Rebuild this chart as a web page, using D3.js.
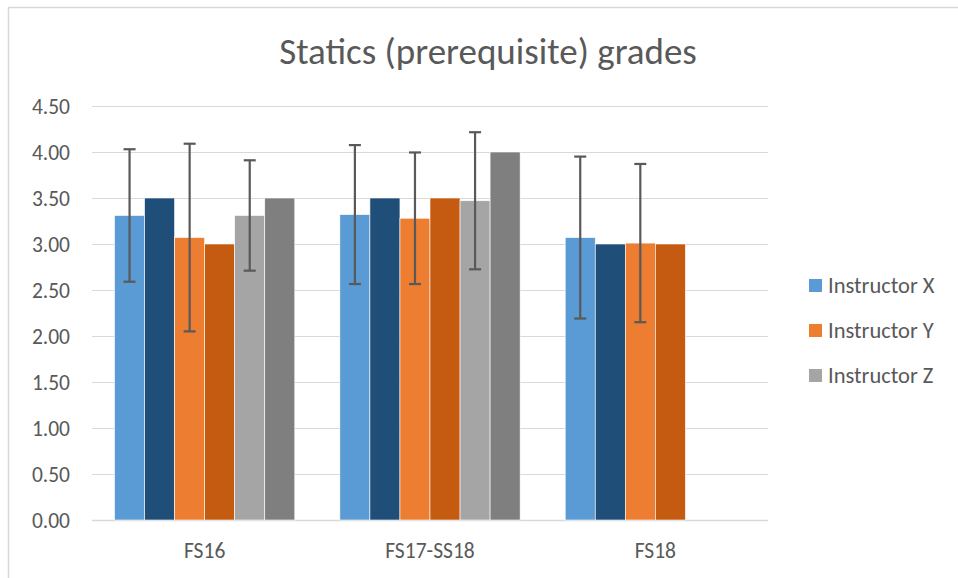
<!DOCTYPE html>
<html>
<head>
<meta charset="utf-8">
<script src="https://cdn.jsdelivr.net/npm/d3@7"></script>
<style>
  html, body { margin: 0; padding: 0; background: #fff; }
  svg { display: block; }
  text { font-family: Carlito, "Liberation Sans Narrow", "Open Sans", sans-serif; fill: #595959; }
</style>
</head>
<body>
<svg id="chart" width="958" height="578"></svg>
<script>
// ---- Data ----
const title = "Statics (prerequisite) grades";
const categories = ["FS16", "FS17-SS18", "FS18"];
const seriesNames = ["X mean", "X median", "Y mean", "Y median", "Z mean", "Z median"];
const legendNames = ["Instructor X", "Instructor Y", "Instructor Z"];
const xMean   = [3.31, 3.32, 3.07];
const xMedian = [3.50, 3.50, 3.00];
const yMean   = [3.07, 3.28, 3.01];
const yMedian = [3.00, 3.50, 3.00];
const zMean   = [3.31, 3.47, null];
const zMedian = [3.50, 4.00, null];
const xErr = [0.72, 0.755, 0.88];
const yErr = [1.02, 0.715, 0.86];
const zErr = [0.60, 0.745, null];
const yTicks = [0, 0.5, 1, 1.5, 2, 2.5, 3, 3.5, 4, 4.5];

// ---- Styles ----
const colors = ["#5b9bd5", "#1f4e79", "#ed7d31", "#c55a11", "#a5a5a5", "#7f7f7f"];
const legendColors = ["#5b9bd5", "#ed7d31", "#a5a5a5"];

const svg = d3.select("#chart");
const W = 958, H = 578;

// chart border
svg.append("rect").attr("x", 8.5).attr("y", 7.5).attr("width", W).attr("height", H)
  .attr("fill", "none").attr("stroke", "#d9d9d9").attr("stroke-width", 1.5);

const plot = { left: 92, right: 768, top: 106, bottom: 520 };

const y = d3.scaleLinear().domain([0, 4.5]).range([plot.bottom, plot.top]);
const x0 = d3.scaleBand().domain(categories).range([plot.left, plot.right]).paddingInner(0.2).paddingOuter(0.1);
const x1 = d3.scaleBand().domain(seriesNames).range([0, x0.bandwidth()]);

// gridlines
svg.append("g").selectAll("line").data(yTicks).join("line")
  .attr("x1", plot.left).attr("x2", plot.right)
  .attr("y1", d => Math.round(y(d)) + 0.5).attr("y2", d => Math.round(y(d)) + 0.5)
  .attr("stroke", "#d9d9d9").attr("stroke-width", d => d === 0 ? 1.5 : 1.2);

// y axis labels
svg.append("g").selectAll("text").data(yTicks).join("text")
  .attr("x", 70).attr("y", d => y(d)).attr("dy", "0.35em")
  .attr("text-anchor", "end").attr("font-size", 21.5)
  .text(d => d3.format(".2f")(d));

// bars
const allSeries = [xMean, xMedian, yMean, yMedian, zMean, zMedian];
const barData = [];
categories.forEach((c, ci) => {
  allSeries.forEach((s, si) => {
    if (s[ci] != null) barData.push({ cat: c, series: seriesNames[si], si, v: s[ci] });
  });
});
svg.append("g").selectAll("rect").data(barData).join("rect")
  .attr("x", d => x0(d.cat) + x1(d.series))
  .attr("y", d => y(d.v))
  .attr("width", x1.bandwidth())
  .attr("height", d => y(0) - y(d.v))
  .attr("fill", d => colors[d.si])
  .attr("stroke", "#ffffff").attr("stroke-width", 0.6);

// error bars
const errSets = [[xMean, xErr, "X mean"], [yMean, yErr, "Y mean"], [zMean, zErr, "Z mean"]];
const errData = [];
categories.forEach((c, ci) => {
  errSets.forEach(([m, e, name]) => {
    if (m[ci] != null && e[ci] != null) errData.push({ cat: c, series: name, m: m[ci], e: e[ci] });
  });
});
const eg = svg.append("g").attr("stroke", "#595959").attr("stroke-width", 2.2);
errData.forEach(d => {
  const cx = x0(d.cat) + x1(d.series) + x1.bandwidth() / 2;
  const yt = y(d.m + d.e), yb = y(d.m - d.e);
  eg.append("line").attr("x1", cx).attr("x2", cx).attr("y1", yt).attr("y2", yb);
  eg.append("line").attr("x1", cx - 6).attr("x2", cx + 6).attr("y1", yt).attr("y2", yt);
  eg.append("line").attr("x1", cx - 6).attr("x2", cx + 6).attr("y1", yb).attr("y2", yb);
});

// x axis labels
svg.append("g").selectAll("text").data(categories).join("text")
  .attr("x", d => x0(d) + x0.bandwidth() / 2).attr("y", 558)
  .attr("text-anchor", "middle").attr("font-size", 21.5)
  .text(d => d);

// title
svg.append("text").attr("x", 488).attr("y", 64).attr("text-anchor", "middle")
  .attr("font-size", 37).text(title);

// legend
const lg = svg.append("g");
legendNames.forEach((n, i) => {
  const ly = 285 + i * 45;
  lg.append("rect").attr("x", 809).attr("y", ly - 6).attr("width", 13).attr("height", 13).attr("fill", legendColors[i]);
  lg.append("text").attr("x", 828).attr("y", ly).attr("dy", "0.35em").attr("font-size", 22.5).text(n);
});
</script>
</body>
</html>
